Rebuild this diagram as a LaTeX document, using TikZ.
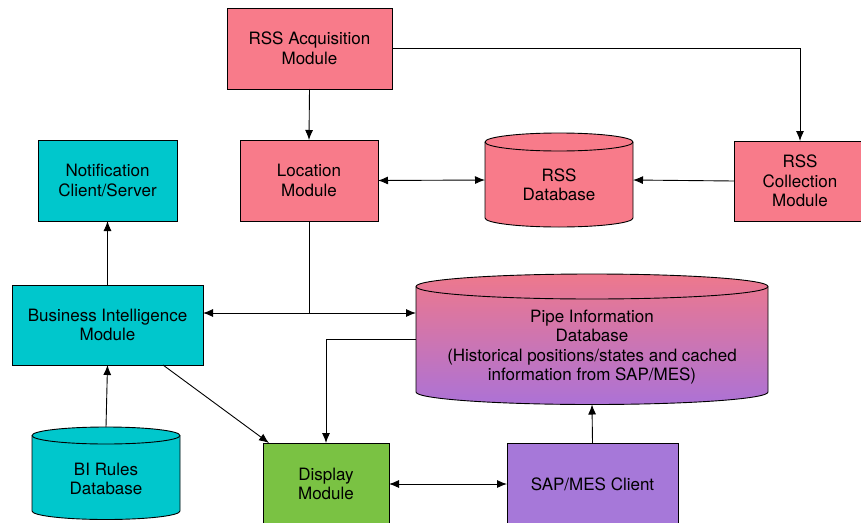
\documentclass[tikz,border=0pt]{standalone}
\usepackage{fontspec}
\setmainfont{TeX Gyre Heros}
\usetikzlibrary{arrows.meta}

\definecolor{rsspink}{RGB}{248,123,138}
\definecolor{bicyan}{RGB}{0,199,204}
\definecolor{dispgreen}{RGB}{122,194,67}
\definecolor{sappurple}{RGB}{166,120,217}
\definecolor{pipetop}{RGB}{238,120,140}
\definecolor{pipebot}{RGB}{172,114,214}

% database cylinder: #1 path options, #2 left x, #3 right x,
% #4 top ellipse centre y, #5 bottom ellipse centre y, #6 ellipse y radius
\newcommand{\dbcylinder}[6]{%
  \path[#1] (#2,-#4) -- (#2,-#5)
    arc[start angle=180,end angle=360,x radius={(#3-#2)/2},y radius=#6]
    -- (#3,-#4)
    arc[start angle=0,end angle=180,x radius={(#3-#2)/2},y radius=#6]
    -- cycle;
  \draw[line width=0.9pt] (#2,-#4)
    arc[start angle=180,end angle=360,x radius={(#3-#2)/2},y radius=#6];
}

\begin{document}
\begin{tikzpicture}[x=1pt,y=1pt,
  txt/.style={inner sep=0pt, outer sep=0pt, align=center,
    font=\fontsize{17}{19.5}\selectfont},
  box/.style={txt, draw=black, line width=0.9pt},
  hold/.style={inner sep=0pt, outer sep=0pt},
  link/.style={draw=black, line width=0.9pt},
  arr/.style={link, -{Latex[length=10pt,width=8pt]}},
  arrs/.style={link, {Latex[length=10pt,width=8pt]}-{Latex[length=10pt,width=8pt]}},
]
\useasboundingbox (0,0) rectangle (861,-522);
\clip (0,0) rectangle (861,-522);

% module boxes
\node[box, fill=rsspink, minimum width=165pt, minimum height=81pt]
  (acq) at (309.5,-48.5) {RSS Acquisition\\Module};
\node[box, fill=rsspink, minimum width=138pt, minimum height=81pt]
  (loc) at (309,-180.5) {Location\\Module};
\node[box, fill=bicyan, minimum width=139pt, minimum height=81pt]
  (notif) at (107.5,-180.5) {Notification\\Client/Server};
\node[box, fill=rsspink, minimum width=132pt, minimum height=80pt]
  (coll) at (800,-181) {RSS\\Collection\\Module};
\node[box, fill=bicyan, minimum width=191pt, minimum height=80pt]
  (bi) at (107.5,-325) {Business Intelligence\\Module};
\node[box, fill=dispgreen, minimum width=126pt, minimum height=82pt]
  (disp) at (326,-484) {Display\\Module};
\node[box, fill=sappurple, minimum width=171pt, minimum height=82pt]
  (sap) at (592.5,-484) {SAP/MES Client};

% databases
\dbcylinder{fill=rsspink, draw=black, line width=0.9pt}{485}{633}{142}{218}{9}
\node[hold, minimum width=148pt, minimum height=94pt] (rssdb) at (559,-180) {};
\node[txt] (rssdbtext) at (559,-185) {RSS\\Database};

\dbcylinder{top color=pipetop, bottom color=pipebot, draw=black, line width=0.9pt}{416}{768}{286.5}{392}{12.5}
\node[hold, minimum width=352pt, minimum height=130.5pt] (pipe) at (592,-339.25) {};
\node[txt] (pipetext) at (592,-347)
  {Pipe Information\\Database\\(Historical positions/states and cached\\information from SAP/MES)};

\dbcylinder{fill=bicyan, draw=black, line width=0.9pt}{32}{180}{435.5}{511}{8.5}
\node[hold, minimum width=148pt, minimum height=92.5pt] (birules) at (106,-473.25) {};
\node[txt] (birulestext) at (106,-479) {BI Rules\\Database};

% connectors
\coordinate (j) at (309,-313);
\draw[arr] (acq.south) -- (loc.north);
\draw[arr] (acq.east) -| (coll.north);
\draw[arr] (coll.west) -- (rssdb.east);
\draw[arrs] (loc.east) -- (rssdb.west);
\draw[link] (loc.south) -- (j);
\draw[arrs] (bi.east |- j) -- (pipe.west |- j);
\draw[arr] (bi.north) -- (notif.south);
\draw[arr] (birules.north) -- (bi.south);
\draw[arr] ([xshift=55.5pt]bi.south) -- ([xshift=-57pt]disp.north);
\draw[arr] (pipe.west) -| (disp.north);
\draw[arrs] (disp.east) -- (sap.west);
\draw[arr] (sap.north) -- (pipe.south);
\end{tikzpicture}
\end{document}
